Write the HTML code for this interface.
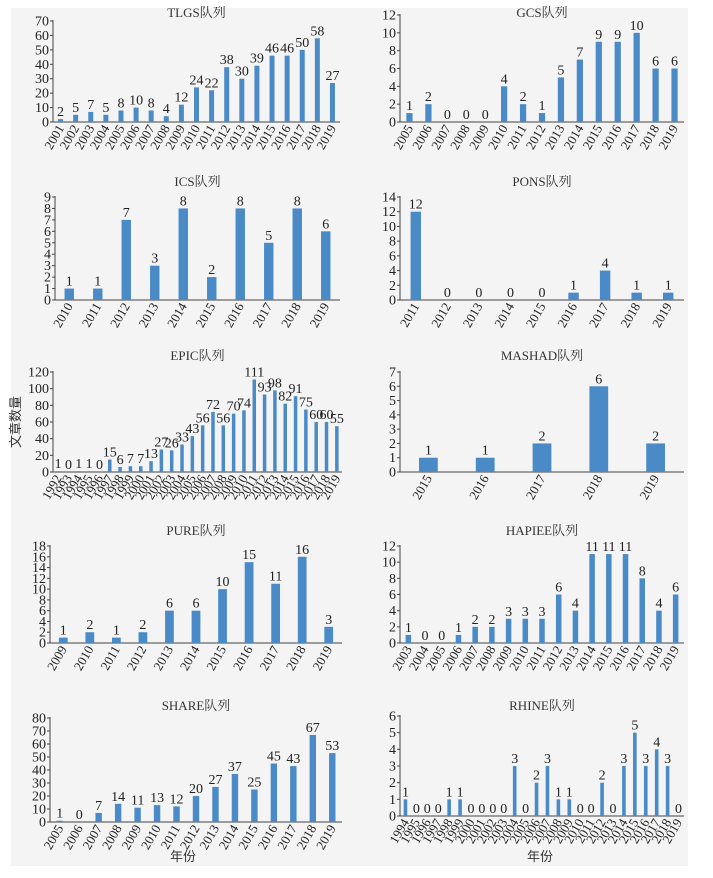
<!DOCTYPE html>
<html><head><meta charset="utf-8"><style>
html,body{margin:0;padding:0;background:#fff;}
svg{display:block;font-family:"Liberation Serif","Noto Serif CJK SC",serif;}
</style></head><body>
<svg id="c" width="713" height="878" xmlns="http://www.w3.org/2000/svg">
<rect x="11" y="8" width="677" height="858" fill="#f4f4f4"/>
<text x="20" y="422" font-size="13" fill="#333" transform="rotate(-90 20 422)" text-anchor="middle" font-family="Liberation Sans, Noto Sans CJK SC, sans-serif">文章数量</text>
<text x="183" y="861" font-size="13" fill="#333" text-anchor="middle" font-family="Liberation Sans, Noto Sans CJK SC, sans-serif">年份</text>
<text x="540" y="861" font-size="13" fill="#333" text-anchor="middle" font-family="Liberation Sans, Noto Sans CJK SC, sans-serif">年份</text>
</svg>
<script>
const tlgsValues=[2,5,7,5,8,10,8,4,12,24,22,38,30,39,46,46,50,58,27];
const gcsValues=[1,2,0,0,0,4,2,1,5,7,9,9,10,6,6];
const icsValues=[1,1,7,3,8,2,8,5,8,6];
const ponsValues=[12,0,0,0,0,1,4,1,1];
const epicValues=[1,0,1,1,0,15,6,7,7,13,27,26,33,43,56,72,56,70,74,111,93,98,82,91,75,60,60,55];
const mashadValues=[1,1,2,6,2];
const pureValues=[1,2,1,2,6,6,10,15,11,16,3];
const hapieeValues=[1,0,0,1,2,2,3,3,3,6,4,11,11,11,8,4,6];
const shareValues=[1,0,7,14,11,13,12,20,27,37,25,45,43,67,53];
const rhineValues=[1,0,0,0,1,1,0,0,0,0,3,0,2,3,1,1,0,0,2,0,3,5,3,4,3,0];
const tlgsStart=2001, gcsStart=2005, icsStart=2010, ponsStart=2011, epicStart=1992, mashadStart=2015, pureStart=2009, hapieeStart=2003, shareStart=2005, rhineStart=1994;
const tlgsTicks=[0,10,20,30,40,50,60,70];
const gcsTicks=[0,2,4,6,8,10,12];
const icsTicks=[0,1,2,3,4,5,6,7,8,9];
const ponsTicks=[0,2,4,6,8,10,12,14];
const epicTicks=[0,20,40,60,80,100,120];
const mashadTicks=[0,1,2,3,4,5,6,7];
const pureTicks=[0,2,4,6,8,10,12,14,16,18];
const hapieeTicks=[0,2,4,6,8,10,12];
const shareTicks=[0,10,20,30,40,50,60,70,80];
const rhineTicks=[0,1,2,3,4,5,6];

const NS="http://www.w3.org/2000/svg";
const svg=document.getElementById('c');
function mk(tag,attrs,parent){const e=document.createElementNS(NS,tag);for(const k in attrs)e.setAttribute(k,attrs[k]);(parent||svg).appendChild(e);return e;}
function years(s,n){const a=[];for(let i=0;i<n;i++)a.push(String(s+i));return a;}

const panels=[
 {id:'tlgs',title:'TLGS队列',vals:tlgsValues,start:tlgsStart,ticks:tlgsTicks,x0:53,x1:340,yTop:21,yZero:122,ty:17},
 {id:'gcs',title:'GCS队列',vals:gcsValues,start:gcsStart,ticks:gcsTicks,x0:400,x1:684,yTop:15,yZero:122,ty:17},
 {id:'ics',title:'ICS队列',vals:icsValues,start:icsStart,ticks:icsTicks,x0:55,x1:340,yTop:197,yZero:300,ty:186},
 {id:'pons',title:'PONS队列',vals:ponsValues,start:ponsStart,ticks:ponsTicks,x0:400,x1:684,yTop:197,yZero:300,ty:186},
 {id:'epic',title:'EPIC队列',vals:epicValues,start:epicStart,ticks:epicTicks,x0:53,x1:342,yTop:372,yZero:472,ty:360},
 {id:'mashad',title:'MASHAD队列',vals:mashadValues,start:mashadStart,ticks:mashadTicks,x0:400,x1:684,yTop:372,yZero:472,ty:360},
 {id:'pure',title:'PURE队列',vals:pureValues,start:pureStart,ticks:pureTicks,x0:50,x1:342,yTop:546,yZero:643,ty:535},
 {id:'hapiee',title:'HAPIEE队列',vals:hapieeValues,start:hapieeStart,ticks:hapieeTicks,x0:400,x1:684,yTop:546,yZero:643,ty:535},
 {id:'share',title:'SHARE队列',vals:shareValues,start:shareStart,ticks:shareTicks,x0:50,x1:342,yTop:718,yZero:822,ty:710},
 {id:'rhine',title:'RHINE队列',vals:rhineValues,start:rhineStart,ticks:rhineTicks,x0:400,x1:684,yTop:716,yZero:816,ty:710}
];

panels.forEach(p=>{
  const g=mk('g',{});
  
  
  const n=p.vals.length, cats=years(p.start,n);
  const maxT=p.ticks[p.ticks.length-1];
  const y=v=>p.yZero-(v/maxT)*(p.yZero-p.yTop);
  const slot=(p.x1-p.x0)/n;
  const xc=i=>p.x0+slot*(i+0.5);
  const bw=Math.max(3.5,slot*0.33);
  const t=mk('text',{x:(p.x0+p.x1)/2,y:p.ty,'font-size':13,'text-anchor':'middle',fill:'#333'},g);
  t.textContent=p.title;
  
  
  const ax=mk('line',{x1:p.x0,y1:p.yTop-1,x2:p.x0,y2:p.yZero,stroke:'#444','stroke-width':1},g);
  
  
  const bx=mk('line',{x1:p.x0,y1:p.yZero,x2:p.x1,y2:p.yZero,stroke:'#444','stroke-width':1},g);
  
  
  p.ticks.forEach(tv=>{
    mk('line',{x1:p.x0-3,y1:y(tv),x2:p.x0,y2:y(tv),stroke:'#444'},g);
    const tl=mk('text',{x:p.x0-4,y:y(tv)+4.5,'font-size':14,'text-anchor':'end',fill:'#222'},g);
    tl.textContent=tv;
    
    
  });
  p.vals.forEach((v,i)=>{
    const r=mk('rect',{x:xc(i)-bw/2,y:y(v),width:bw,height:p.yZero-y(v),fill:'#4a8ac6'},g);
    
    
    const vl=mk('text',{x:xc(i),y:y(v)-3,'font-size':14,'text-anchor':'middle',fill:'#222'},g);
    vl.textContent=v;
    
    
    const cx=xc(i)+4, cy=p.yZero+6;
    const xl=mk('text',{x:cx,y:cy,'font-size':13,'text-anchor':'end',fill:'#222',transform:'rotate(-60 '+cx+' '+cy+')'},g);
    xl.textContent=cats[i];
    
    
  });
});
</script>
</body></html>
